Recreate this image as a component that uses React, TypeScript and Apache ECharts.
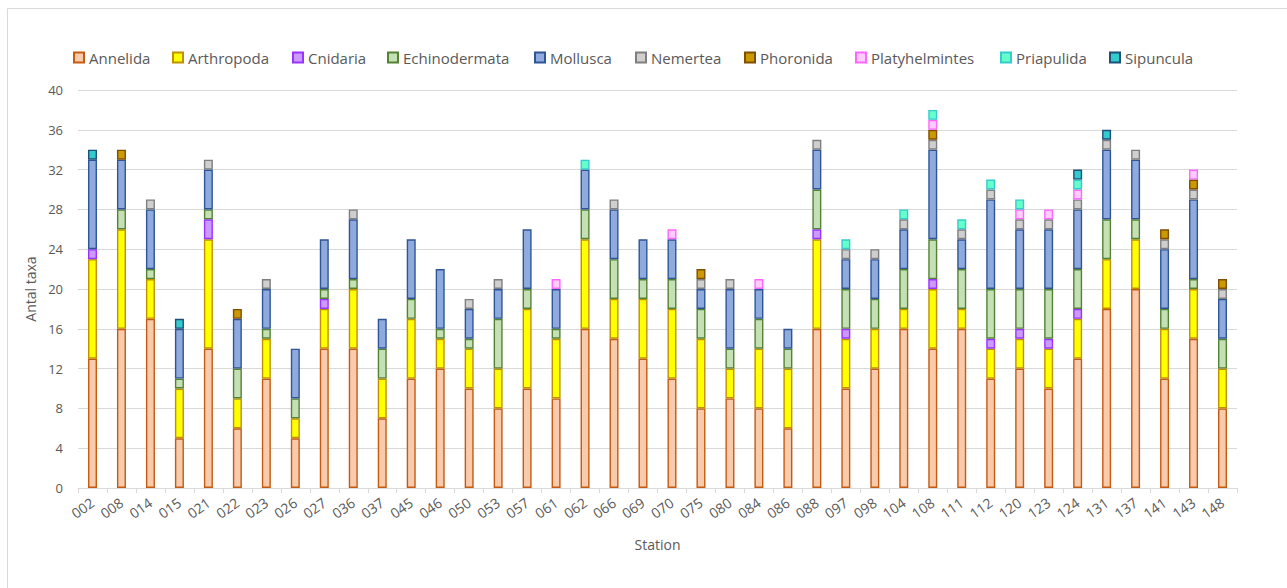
import React, { useEffect, useRef } from "react";
import * as echarts from "echarts";

const stations = ["002","008","014","015","021","022","023","026","027","036","037","045","046","050","053","057","061","062","066","069","070","075","080","084","086","088","097","098","104","108","111","112","120","123","124","131","137","141","143","148"];

const annelida = [13,16,17,5,14,6,11,5,14,14,7,11,12,10,8,10,9,16,15,13,11,8,9,8,6,16,10,12,16,14,16,11,12,10,13,18,20,11,15,8];
const arthropoda = [10,10,4,5,11,3,4,2,4,6,4,6,3,4,4,8,6,9,4,6,7,7,3,6,6,9,5,4,2,6,2,3,3,4,4,5,5,5,5,4];
const cnidaria = [1,0,0,0,2,0,0,0,1,0,0,0,0,0,0,0,0,0,0,0,0,0,0,0,0,1,1,0,0,1,0,1,1,1,1,0,0,0,0,0];
const echinodermata = [0,2,1,1,1,3,1,2,1,1,3,2,1,1,5,2,1,3,4,2,3,3,2,3,2,4,4,3,4,4,4,5,4,5,4,4,2,2,1,3];
const mollusca = [9,5,6,5,4,5,4,5,5,6,3,6,6,3,3,6,4,4,5,4,4,2,6,3,2,4,3,4,4,9,3,9,6,6,6,7,6,6,8,4];
const nemertea = [0,0,1,0,1,0,1,0,0,1,0,0,0,1,1,0,0,0,1,0,0,1,1,0,0,1,1,1,1,1,1,1,1,1,1,1,1,1,1,1];
const phoronida = [0,1,0,0,0,1,0,0,0,0,0,0,0,0,0,0,0,0,0,0,0,1,0,0,0,0,0,0,0,1,0,0,0,0,0,0,0,1,1,1];
const platyhelmintes = [0,0,0,0,0,0,0,0,0,0,0,0,0,0,0,0,1,0,0,0,1,0,0,1,0,0,0,0,0,1,0,0,1,1,1,0,0,0,1,0];
const priapulida = [0,0,0,0,0,0,0,0,0,0,0,0,0,0,0,0,0,1,0,0,0,0,0,0,0,0,1,0,1,1,1,1,1,0,1,0,0,0,0,0];
const sipuncula = [1,0,0,1,0,0,0,0,0,0,0,0,0,0,0,0,0,0,0,0,0,0,0,0,0,0,0,0,0,0,0,0,0,0,1,1,0,0,0,0];

const yTicks = { min: 0, max: 40, interval: 4 };

const seriesDefs = [
  { name: "Annelida", data: annelida, fill: "#F8CBAD", border: "#C55A11" },
  { name: "Arthropoda", data: arthropoda, fill: "#FFFF00", border: "#BF9000" },
  { name: "Cnidaria", data: cnidaria, fill: "#CC99FF", border: "#9933FF" },
  { name: "Echinodermata", data: echinodermata, fill: "#C5E0B4", border: "#548235" },
  { name: "Mollusca", data: mollusca, fill: "#8FAADC", border: "#2F5597" },
  { name: "Nemertea", data: nemertea, fill: "#D0CECE", border: "#7F7F7F" },
  { name: "Phoronida", data: phoronida, fill: "#CC9900", border: "#7F4F00" },
  { name: "Platyhelmintes", data: platyhelmintes, fill: "#FFCCFF", border: "#FF66FF" },
  { name: "Priapulida", data: priapulida, fill: "#66FFCC", border: "#33CCCC" },
  { name: "Sipuncula", data: sipuncula, fill: "#33CCCC", border: "#1F4E79" },
];

const legendLeft = [73, 172, 292, 387, 534, 635, 744, 855, 1000, 1109];

const FONT = "'Open Sans', 'Noto Sans', sans-serif";

export default function App() {
  const ref = useRef<HTMLDivElement>(null);
  useEffect(() => {
    if (!ref.current) return;
    const chart = echarts.init(ref.current, undefined, { renderer: "svg" });
    chart.setOption({
      animation: false,
      backgroundColor: "#ffffff",
      textStyle: { fontFamily: FONT },
      graphic: [
        {
          type: "rect",
          shape: { x: 7.5, y: 8.5, width: 1300, height: 620 },
          style: { fill: "none", stroke: "#D9D9D9", lineWidth: 1 },
          silent: true,
        },
      ],
      legend: seriesDefs.map((s, i) => ({
        data: [s.name],
        left: legendLeft[i],
        top: 50,
        itemWidth: 10,
        itemHeight: 10,
        itemGap: 0,
        padding: 0,
        icon: "rect",
        textStyle: { fontSize: 15, color: "#595959", fontFamily: FONT },
      })),
      grid: { left: 78, right: 50, top: 90, bottom: 100 },
      xAxis: {
        type: "category",
        data: stations,
        name: "Station",
        nameLocation: "middle",
        nameGap: 49,
        nameTextStyle: { fontSize: 14, color: "#595959" },
        axisLine: { lineStyle: { color: "#D9D9D9", width: 1 } },
        axisTick: { show: true, length: 5, lineStyle: { color: "#D9D9D9" } },
        axisLabel: { rotate: 35, fontSize: 14, color: "#595959", margin: 13, interval: 0 },
      },
      yAxis: {
        type: "value",
        min: yTicks.min,
        max: yTicks.max,
        interval: yTicks.interval,
        name: "Antal taxa",
        nameLocation: "middle",
        nameGap: 40,
        nameTextStyle: { fontSize: 14, color: "#595959" },
        axisLine: { show: false },
        axisTick: { show: false },
        axisLabel: { fontSize: 13, color: "#595959", margin: 15 },
        splitLine: { lineStyle: { color: "#D9D9D9", width: 1 } },
      },
      series: seriesDefs.map((s) => ({
        name: s.name,
        type: "bar",
        stack: "total",
        barWidth: 9,
        data: s.data.map((v) => (v === 0 ? "-" : v)),
        itemStyle: { color: s.fill, borderColor: s.border, borderWidth: 1.4 },
      })),
    });
    return () => chart.dispose();
  }, []);
  return (
    <div
      ref={ref}
      style={{ position: "fixed", left: 0, top: 0, width: 1287, height: 588 }}
    />
  );
}
